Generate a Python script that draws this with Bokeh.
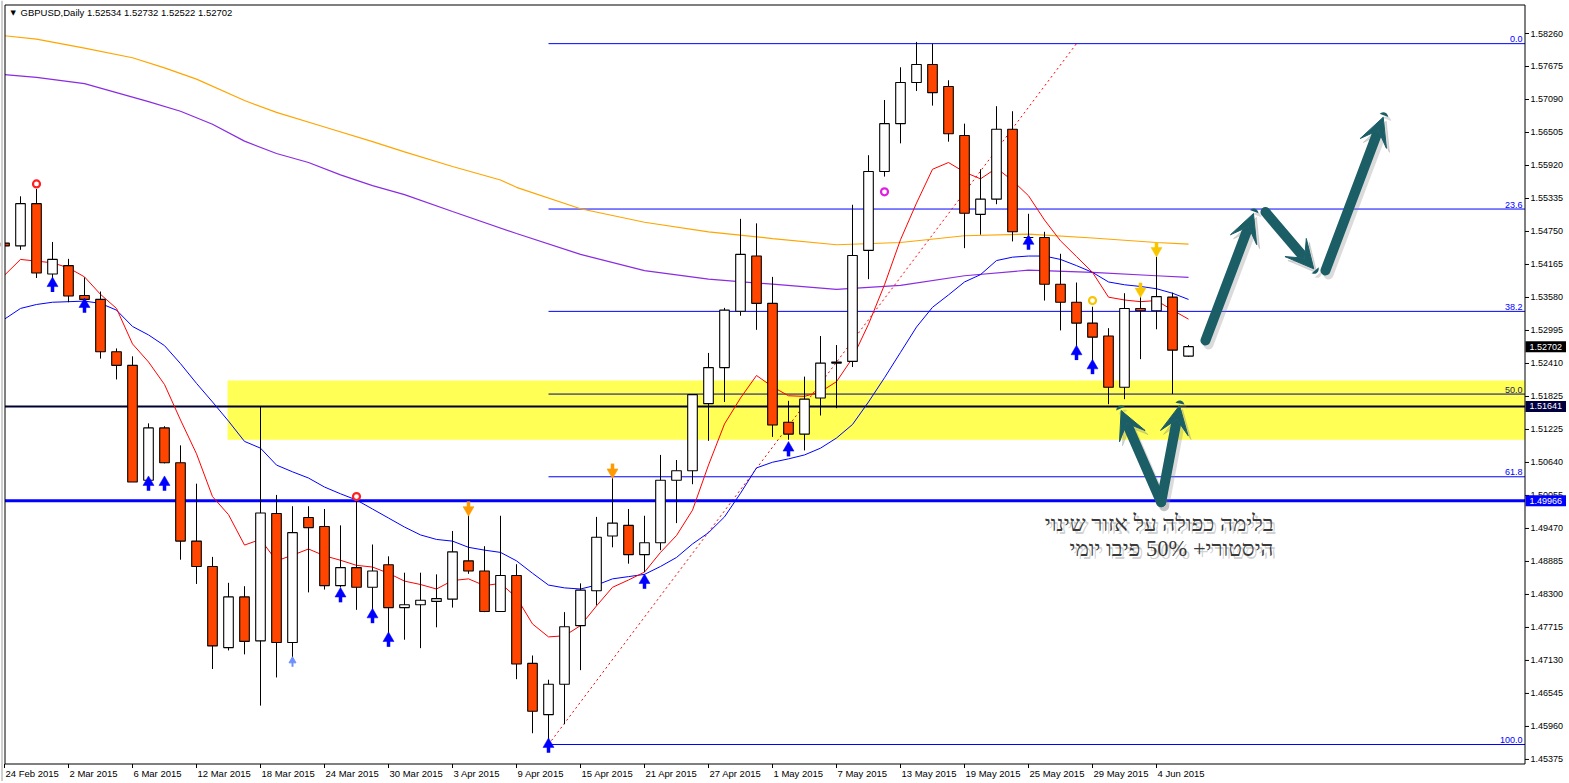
from bokeh.plotting import figure
from bokeh.models import Arrow, VeeHead, Range1d
from bokeh.core.properties import value
from bokeh.embed import file_html
from bokeh.resources import INLINE

# ---------------- data ----------------
header_text = "GBPUSD,Daily  1.52534 1.52732 1.52522 1.52702"

x_tick_labels = ["24 Feb 2015", "2 Mar 2015", "6 Mar 2015", "12 Mar 2015", "18 Mar 2015",
                 "24 Mar 2015", "30 Mar 2015", "3 Apr 2015", "9 Apr 2015", "15 Apr 2015",
                 "21 Apr 2015", "27 Apr 2015", "1 May 2015", "7 May 2015", "13 May 2015",
                 "19 May 2015", "25 May 2015", "29 May 2015", "4 Jun 2015"]
x_tick_every = 4   # one date label every 4 bars

y_tick_labels = ["1.58260", "1.57675", "1.57090", "1.56505", "1.55920", "1.55335", "1.54750",
                 "1.54165", "1.53580", "1.52995", "1.52410", "1.51825", "1.51225", "1.50640",
                 "1.50055", "1.49470", "1.48885", "1.48300", "1.47715", "1.47130", "1.46545",
                 "1.45960", "1.45375"]
y_tick_top = 1.58260
y_tick_bottom = 1.45375

opens = [1.5454, 1.5449, 1.5524, 1.5399, 1.5414, 1.5361, 1.5354, 1.5261, 1.5237, 1.5033,
         1.5126, 1.5064, 1.4925, 1.4880, 1.4736, 1.4826, 1.4748, 1.4974, 1.4745, 1.4967,
         1.4951, 1.4846, 1.4878, 1.4843, 1.4883, 1.4807, 1.4812, 1.4818, 1.4822, 1.4890,
         1.4872, 1.4800, 1.4864, 1.4708, 1.4617, 1.4671, 1.4775, 1.4837, 1.4934, 1.4953,
         1.4901, 1.4922, 1.5033, 1.5050, 1.5169, 1.5233, 1.5333, 1.5431, 1.5347, 1.5136,
         1.5115, 1.5179, 1.5241, 1.5244, 1.5441, 1.5581, 1.5666, 1.5739, 1.5771, 1.5732,
         1.5645, 1.5505, 1.5532, 1.5656, 1.5464, 1.5464, 1.5381, 1.5349, 1.5312, 1.5289,
         1.5198, 1.5338, 1.5334, 1.5358, 1.52534]
highs = [1.5471, 1.5537, 1.5550, 1.5456, 1.5426, 1.5393, 1.5368, 1.5267, 1.5253, 1.5134,
         1.5129, 1.5095, 1.5027, 1.4897, 1.4851, 1.4845, 1.5164, 1.5007, 1.4987, 1.4987,
         1.4982, 1.4953, 1.5004, 1.4919, 1.4898, 1.4869, 1.4869, 1.4866, 1.4943, 1.4992,
         1.4916, 1.4970, 1.4884, 1.4722, 1.4679, 1.4799, 1.4850, 1.4968, 1.5047, 1.4982,
         1.4970, 1.5078, 1.5069, 1.5185, 1.5259, 1.5339, 1.5497, 1.5489, 1.5394, 1.5174,
         1.5217, 1.5289, 1.5273, 1.5522, 1.5610, 1.5708, 1.5766, 1.5811, 1.5808, 1.5743,
         1.5666, 1.5585, 1.5697, 1.5688, 1.5506, 1.5474, 1.5435, 1.5384, 1.5341, 1.5303,
         1.5365, 1.5364, 1.5430, 1.5366, 1.52732]
lows = [1.5398, 1.5442, 1.5392, 1.5392, 1.5349, 1.5347, 1.5249, 1.5212, 1.5030, 1.5031,
        1.5063, 1.4892, 1.4849, 1.4698, 1.4731, 1.4724, 1.4633, 1.4683, 1.4719, 1.4834,
        1.4839, 1.4843, 1.4803, 1.4802, 1.4760, 1.4750, 1.4735, 1.4772, 1.4807, 1.4867,
        1.4799, 1.4800, 1.4680, 1.4584, 1.4564, 1.4600, 1.4696, 1.4811, 1.4914, 1.4885,
        1.4870, 1.4909, 1.4957, 1.5026, 1.5103, 1.5172, 1.5325, 1.5300, 1.5110, 1.5105,
        1.5086, 1.5148, 1.5161, 1.5234, 1.5390, 1.5572, 1.5631, 1.5724, 1.5698, 1.5634,
        1.5445, 1.5469, 1.5523, 1.5457, 1.5454, 1.5352, 1.5299, 1.5267, 1.5238, 1.5168,
        1.5177, 1.5248, 1.5301, 1.5186, 1.52522]
closes = [1.5449, 1.5524, 1.5401, 1.5425, 1.5360, 1.5354, 1.5261, 1.5237, 1.5030, 1.5126,
          1.5064, 1.4925, 1.4880, 1.4739, 1.4826, 1.4747, 1.4975, 1.4745, 1.4940, 1.4949,
          1.4846, 1.4878, 1.4843, 1.4872, 1.4807, 1.4812, 1.4820, 1.4823, 1.4906, 1.4872,
          1.4800, 1.4864, 1.4707, 1.4623, 1.4671, 1.4773, 1.4838, 1.4932, 1.4957, 1.4901,
          1.4922, 1.5033, 1.5050, 1.5185, 1.5233, 1.5335, 1.5434, 1.5347, 1.5131, 1.5115,
          1.5177, 1.5241, 1.5243, 1.5432, 1.5581, 1.5666, 1.5739, 1.5771, 1.5721, 1.5648,
          1.5507, 1.5532, 1.5656, 1.5474, 1.5464, 1.5381, 1.5349, 1.5312, 1.5287, 1.5198,
          1.5338, 1.5334, 1.5359, 1.5264, 1.52702]

# fast moving average (red), one value per bar
ma_red = [1.5397, 1.5425, 1.5422, 1.5419, 1.5410, 1.5394, 1.5363, 1.5338, 1.5275, 1.5243,
          1.5203, 1.5140, 1.5080, 1.5004, 1.4972, 1.4918, 1.4928, 1.4890, 1.4900, 1.4911,
          1.4899, 1.4891, 1.4882, 1.4879, 1.4868, 1.4854, 1.4848, 1.4840, 1.4855, 1.4858,
          1.4846, 1.4850, 1.4825, 1.4778, 1.4755, 1.4757, 1.4775, 1.4810, 1.4843, 1.4856,
          1.4870, 1.4905, 1.4935, 1.4980, 1.5060, 1.5133, 1.5179, 1.5219, 1.5199, 1.5183,
          1.5182, 1.5190, 1.5208, 1.5250, 1.5310, 1.5380, 1.5460, 1.5525, 1.5585, 1.5597,
          1.5580, 1.5568, 1.5587, 1.5565, 1.5538, 1.5495, 1.5458, 1.5430, 1.5402, 1.5358,
          1.5353, 1.5350, 1.5352, 1.5335, 1.5319]
# medium moving average (blue), one value per bar
ma_blue = [1.5319, 1.5338, 1.5345, 1.5349, 1.5350, 1.5351, 1.5347, 1.5335, 1.5306, 1.5291,
           1.5272, 1.5240, 1.5205, 1.5172, 1.5138, 1.5102, 1.5090, 1.5060, 1.5048, 1.5037,
           1.5021, 1.5009, 1.4998, 1.4982, 1.4966, 1.4950, 1.4936, 1.4928, 1.4925, 1.4914,
           1.4909, 1.4905, 1.4890, 1.4868, 1.4847, 1.4842, 1.4840, 1.4847, 1.4858, 1.4862,
           1.4866, 1.4880, 1.4896, 1.4920, 1.4940, 1.4968, 1.5010, 1.5055, 1.5065, 1.5071,
           1.5078, 1.5090, 1.5108, 1.5132, 1.5172, 1.5215, 1.5260, 1.5305, 1.5340, 1.5362,
           1.5385, 1.5398, 1.5423, 1.5429, 1.5431, 1.5431, 1.5425, 1.5414, 1.5402, 1.5385,
           1.5380, 1.5377, 1.5373, 1.5365, 1.5354]
# slow moving average (purple), read at selected bars
ma_purple_idx = [0, 2, 5, 7, 9, 11, 13, 15, 17, 19, 21, 23, 25, 28, 32, 36, 40, 44, 48,
                 52, 56, 60, 64, 68, 72, 74]
ma_purple = [1.5753, 1.5748, 1.5737, 1.5721, 1.5705, 1.5688, 1.5665, 1.5635, 1.5613, 1.5597,
             1.5575, 1.5556, 1.5540, 1.5510, 1.5471, 1.5434, 1.5405, 1.5390, 1.5381, 1.5372,
             1.5379, 1.5396, 1.5406, 1.5402, 1.5396, 1.5393]
# long moving average (orange), read at selected bars
ma_orange_idx = [0, 2, 5, 8, 10, 12, 15, 17, 20, 23, 25, 28, 31, 32, 36, 40, 44, 48, 52,
                 56, 60, 64, 68, 72, 74]
ma_orange = [1.5822, 1.5816, 1.5800, 1.5783, 1.5765, 1.5745, 1.5707, 1.5686, 1.5660, 1.5634,
             1.5616, 1.5590, 1.5566, 1.5553, 1.5515, 1.5491, 1.5474, 1.5462, 1.5451, 1.5455,
             1.5467, 1.5470, 1.5463, 1.5455, 1.5452]

# Fibonacci retracement
fib_levels = [0.0, 23.6, 38.2, 50.0, 61.8, 100.0]
fib_labels = ["0.0", "23.6", "38.2", "50.0", "61.8", "100.0"]
fib_high = 1.5808
fib_low = 1.4564
fib_start_idx = 34
fib_trend_idx = [34, 67]
fib_trend_price = [1.4564, 1.5808]

# horizontal support lines and zone
support_levels = [1.51641, 1.49966]
zone_left_idx = 13.94
zone_bottom = 1.5105
zone_top = 1.5210

# signal markers
up_idx = [3, 5, 9, 10, 21, 23, 24, 34, 40, 49, 64, 67, 68]
up_price = [1.5378, 1.5341, 1.5025, 1.5025, 1.4827, 1.4790, 1.4748, 1.4560, 1.4851,
            1.5086, 1.5453, 1.5257, 1.5232]
small_up_idx = [18]
small_up_price = [1.4709]
down_idx = [29, 38, 71, 72]
down_price = [1.4985, 1.5052, 1.5373, 1.5445]
down_color = ["#FF9A00", "#FF9A00", "#F7C600", "#F7C600"]
dot_idx = [2, 22, 55, 68]
dot_price = [1.5559, 1.5004, 1.5545, 1.5352]
dot_color = ["#FF2020", "#FF2020", "#E020E0", "#F7C600"]

# price tags on the axis
tag_text = ["1.52702", "1.51641", "1.49966"]
tag_price = [1.52702, 1.51641, 1.49966]
tag_color = ["#000000", "#000040", "#0000FF"]

# annotation text (Hebrew)
note_lines = ["בלימה כפולה על אזור שינוי", "היסטורי+ 50% פיבו יומי"]

# drawn arrows: (bar start, price start, bar end, price end)
teal_arrows = [
    (75.06, 1.52811, 78.06, 1.55065),
    (78.81, 1.55090, 81.83, 1.54083),
    (82.56, 1.54053, 86.17, 1.56774),
    (72.29, 1.49941, 69.79, 1.51568),
    (72.29, 1.49941, 73.44, 1.51657),
]

# ---------------- layout helpers (pixel -> data) ----------------
W, H = 1566, 781
BAR_PX = 16.0
X0_PX = 4.0
PX_PER_PRICE = 5634.0
REF_PRICE, REF_PY = 1.5826, 33.0


def X(px):
    return (px - X0_PX) / BAR_PX


def Y(py):
    return REF_PRICE - (py - REF_PY) / PX_PER_PRICE


def DY(dpx):
    return dpx / PX_PER_PRICE


FR_L, FR_R, FR_T, FR_B = 4.5, 1524.5, 4.5, 763.5   # chart frame in pixels

TEAL = "#1b5e66"
FONT = "Liberation Sans"

p = figure(width=W, height=H, x_range=Range1d(X(0), X(W)), y_range=Range1d(Y(H), Y(0)),
           x_axis_location=None, y_axis_location=None,
           output_backend="svg", toolbar_location=None,
           min_border=0, min_border_left=0, min_border_right=0,
           min_border_top=0, min_border_bottom=0)
p.grid.visible = False
p.outline_line_color = None
p.background_fill_color = "white"
p.border_fill_color = "white"

n = len(opens)
idx = list(range(n))

# zone
p.quad(left=[zone_left_idx], right=[X(FR_R)], bottom=[zone_bottom], top=[zone_top],
       fill_color="#FFFF55", line_color=None)

# fib lines
fib_price = [fib_high - lv / 100.0 * (fib_high - fib_low) for lv in fib_levels]
for lv, fp, lab in zip(fib_levels, fib_price, fib_labels):
    col = "#000080" if lv == 50.0 else "#0000FF"
    p.segment(x0=[fib_start_idx], y0=[fp], x1=[X(FR_R)], y1=[fp], line_color=col, line_width=1)
    p.text(x=[X(1522)], y=[fp + DY(1.5)], text=[lab], text_align="right",
           text_baseline="bottom",
           text_color="#1a1a60" if lv == 50.0 else "#0000FF", text_font=value(FONT),
           text_font_size="9px")

p.line(fib_trend_idx, fib_trend_price, line_color="#FF0000", line_dash="2 3", line_width=1)

# support lines
p.segment(x0=[X(FR_L)], y0=[support_levels[0]], x1=[X(FR_R)], y1=[support_levels[0]],
          line_color="#000033", line_width=2)
p.segment(x0=[X(FR_L)], y0=[support_levels[1]], x1=[X(FR_R)], y1=[support_levels[1]],
          line_color="#0000FF", line_width=3)

# moving averages
p.line(ma_orange_idx, ma_orange, line_color="#FFA500", line_width=1.2)
p.line(ma_purple_idx, ma_purple, line_color="#8A2BE2", line_width=1.2)
p.line(idx, ma_blue, line_color="#0000FF", line_width=1)
p.line(idx, ma_red, line_color="#FF0000", line_width=1)

# candles
body_top = [max(o, c) for o, c in zip(opens, closes)]
body_bot = [min(o, c) for o, c in zip(opens, closes)]
body_col = ["white" if c >= o else "#FF4500" for o, c in zip(opens, closes)]
p.segment(x0=idx, y0=lows, x1=idx, y1=highs, line_color="black", line_width=1)
p.vbar(x=idx, width=0.6, top=body_top, bottom=body_bot, fill_color=body_col,
       line_color="black", line_width=1.1)

# signal arrows (shaft + head)
p.segment(x0=up_idx, y0=[v - DY(6) for v in up_price], x1=up_idx,
          y1=[v + DY(1) for v in up_price], line_color="#0000FF", line_width=3.5)
p.scatter(x=up_idx, y=[v + DY(2.5) for v in up_price], marker="triangle", size=11,
          fill_color="#0000FF", line_color="#0000FF", line_width=0.5)
p.segment(x0=small_up_idx, y0=[v - DY(4) for v in small_up_price], x1=small_up_idx,
          y1=[v + DY(1) for v in small_up_price], line_color="#7090ff", line_width=2)
p.scatter(x=small_up_idx, y=[v + DY(2) for v in small_up_price], marker="triangle", size=7,
          fill_color="#7090ff", line_color="#7090ff")
p.segment(x0=down_idx, y0=[v + DY(6) for v in down_price], x1=down_idx,
          y1=[v - DY(1) for v in down_price], line_color=down_color, line_width=3.5)
p.scatter(x=down_idx, y=[v - DY(2.5) for v in down_price], marker="inverted_triangle",
          size=11, fill_color=down_color, line_color=down_color, line_width=0.5)
p.scatter(x=dot_idx, y=dot_price, marker="circle", size=7, fill_color="white",
          line_color=dot_color, line_width=2.2)

# teal arrows with soft shadows
for (xs, ys, xe, ye) in teal_arrows:
    dx, dy = 3 / BAR_PX, -DY(4)
    sh = Arrow(end=VeeHead(size=28, fill_color="#888888", line_color="#888888",
                           fill_alpha=0.3, line_alpha=0.3),
               x_start=xs + dx, y_start=ys + dy, x_end=xe + dx, y_end=ye + dy,
               line_color="#888888", line_alpha=0.3, line_width=10, line_cap="round")
    p.add_layout(sh)
for (xs, ys, xe, ye) in teal_arrows:
    ar = Arrow(end=VeeHead(size=28, fill_color=TEAL, line_color=TEAL),
               x_start=xs, y_start=ys, x_end=xe, y_end=ye,
               line_color=TEAL, line_width=10, line_cap="round")
    p.add_layout(ar)

# Hebrew note with shadow
note_py = [523, 548]
for txt, py in zip(note_lines, note_py):
    p.text(x=[X(1273) + 3 / BAR_PX], y=[Y(py + 3)], text=[txt], text_align="right",
           text_baseline="middle", text_color="#999999", text_alpha=0.45,
           text_font=value("Liberation Serif"), text_font_size="22.5px")
    p.text(x=[X(1273)], y=[Y(py)], text=[txt], text_align="right", text_baseline="middle",
           text_color="#3a3a3a", text_font=value("Liberation Serif"), text_font_size="22.5px")

# cover candle parts left of the frame
p.quad(left=[X(-5)], right=[X(FR_L)], bottom=[Y(H + 5)], top=[Y(-5)],
       fill_color="white", line_color=None)
# window edge and chart frame
p.segment(x0=[X(1.5)], y0=[Y(0)], x1=[X(1.5)], y1=[Y(H)], line_color="#a0a0a0", line_width=1)
p.quad(left=[X(FR_L)], right=[X(FR_R)], bottom=[Y(FR_B)], top=[Y(FR_T)],
       fill_color=None, line_color="black", line_width=1)

# header
p.text(x=[X(10)], y=[Y(12)], text=["▼"], text_baseline="middle", text_color="black",
       text_font=value("DejaVu Sans"), text_font_size="7px")
p.text(x=[X(20)], y=[Y(12)], text=[header_text], text_baseline="middle",
       text_color="black", text_font=value(FONT), text_font_size="9.5px")

# x axis (ticks + left-aligned date labels)
x_ticks = [k * x_tick_every for k in range(len(x_tick_labels))]
p.segment(x0=x_ticks, y0=[Y(FR_B)] * len(x_ticks), x1=x_ticks, y1=[Y(FR_B + 4)] * len(x_ticks),
          line_color="black", line_width=1)
p.text(x=[t + 1 / BAR_PX for t in x_ticks], y=[Y(773)] * len(x_ticks), text=x_tick_labels,
       text_align="left", text_baseline="middle", text_color="black",
       text_font=value(FONT), text_font_size="9.5px")

# y axis (ticks + labels)
y_step = (y_tick_top - y_tick_bottom) / (len(y_tick_labels) - 1)
y_ticks = [y_tick_top - k * y_step for k in range(len(y_tick_labels))]
p.segment(x0=[X(FR_R)] * len(y_ticks), y0=y_ticks, x1=[X(FR_R + 4)] * len(y_ticks), y1=y_ticks,
          line_color="black", line_width=1)
p.text(x=[X(1530)] * len(y_ticks), y=y_ticks, text=y_tick_labels, text_align="left",
       text_baseline="middle", text_color="black", text_font=value(FONT),
       text_font_size="9px")

# price tags
half_h = DY(5.5)
p.quad(left=[X(1525)] * 3, right=[X(1567)] * 3, bottom=[v - half_h for v in tag_price],
       top=[v + half_h for v in tag_price], fill_color=tag_color, line_color=None)
p.text(x=[X(1529)] * 3, y=tag_price, text=tag_text, text_align="left", text_baseline="middle",
       text_color="white", text_font=value(FONT), text_font_size="9px")

open("out.html", "w").write(file_html(p, INLINE))
